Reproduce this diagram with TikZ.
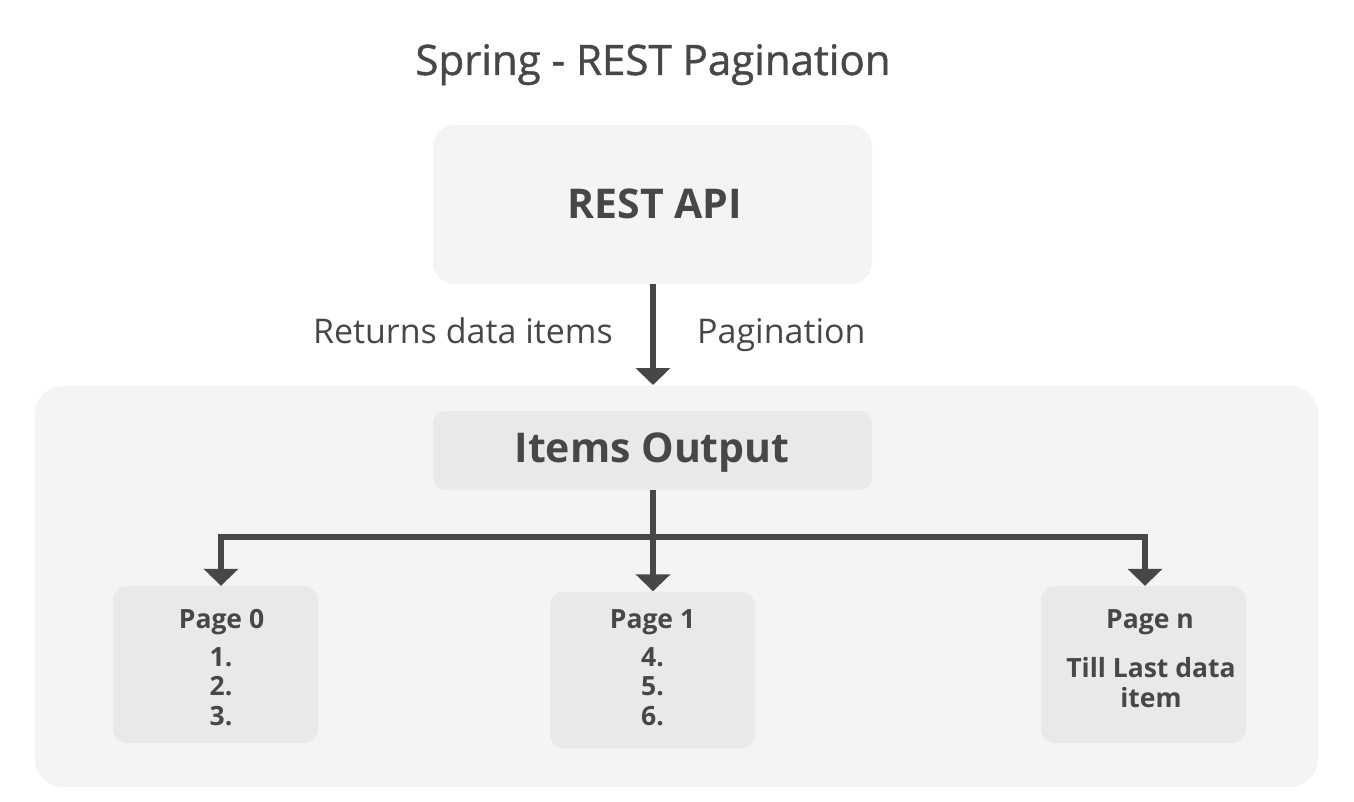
\documentclass[tikz,border=0pt]{standalone}
\usepackage{fontspec}
\setmainfont{Open Sans}
\newfontfamily\semib[FakeBold=1.0]{Open Sans}
\usetikzlibrary{arrows.meta}
\definecolor{txt}{HTML}{474747}
\definecolor{panel}{HTML}{F4F4F4}
\definecolor{inner}{HTML}{E9E9E9}
\tikzset{
  conn/.style={draw=txt, line width=6pt, -{Triangle[width=34pt,length=17pt]}},
  plain/.style={draw=txt, line width=6pt},
  pagebox/.style={fill=inner, rounded corners=14pt, minimum width=205pt, minimum height=157pt, inner sep=0pt},
  lbl/.style={text=txt, font=\fontsize{34}{40}\selectfont, inner sep=0pt},
  ptxt/.style={text=txt, font=\bfseries\fontsize{26.5}{29.5}\selectfont, align=center, inner sep=0pt, anchor=base},
  bigb/.style={text=txt, font=\bfseries\fontsize{41}{48}\selectfont, inner sep=0pt, anchor=base},
}
\begin{document}
\begin{tikzpicture}[x=1pt,y=-1pt]
\useasboundingbox (0,0) rectangle (1354,802);
\fill[white] (0,0) rectangle (1354,802);
\node[text=txt, font=\semib\fontsize{42}{48}\selectfont, inner sep=0pt, anchor=base] (title) at (653,75) {Spring - REST Pagination};
\node[fill=panel, rounded corners=22pt, minimum width=439pt, minimum height=159pt, inner sep=0pt] (api) at (652.5,204.5) {};
\node[bigb] (apit) at (655,219) {REST API};
\node[fill=panel, rounded corners=28pt, minimum width=1283pt, minimum height=401pt, inner sep=0pt] (outer) at (676.5,586.5) {};
\node[fill=inner, rounded corners=12pt, minimum width=439pt, minimum height=79pt, inner sep=0pt] (items) at (652.5,450.5) {};
\node[bigb] (itemst) at (652,462) {Items Output};
\coordinate (arrtip) at (653,385);
\draw[conn] (api.south -| arrtip) -- (arrtip);
\node[lbl, anchor=base east] (ret) at (613,343) {Returns data items};
\node[lbl, anchor=base west] (pag) at (697,343) {Pagination};
\node[pagebox] (p0) at (215.5,664.5) {};
\node[pagebox] (p1) at (652.5,670) {};
\node[pagebox] (pn) at (1143.5,664.5) {};
\coordinate (jl) at (221,537);
\coordinate (jr) at (1145,537);
\draw[plain] ([xshift=-3pt]jl) -- ([xshift=3pt]jr);
\draw[conn] ([xshift=0.5pt]items.south) -- ([xshift=0.5pt]p1.north);
\draw[conn] ([yshift=-3pt]jl) -- (jl |- p0.north);
\draw[conn] ([yshift=-3pt]jr) -- (jr |- pn.north);
\node[ptxt] (p0t) at (221.5,628) {Page 0};
\node[ptxt] (p0l) at (221,725) {1.\\2.\\3.};
\node[ptxt] (p1t) at (652.5,628) {Page 1};
\node[ptxt] (p1l) at (652.5,725) {4.\\5.\\6.};
\node[ptxt] (pnt) at (1150,628) {Page n};
\node[ptxt] (pnl) at (1151,707) {Till Last data\\item};
\end{tikzpicture}
\end{document}
